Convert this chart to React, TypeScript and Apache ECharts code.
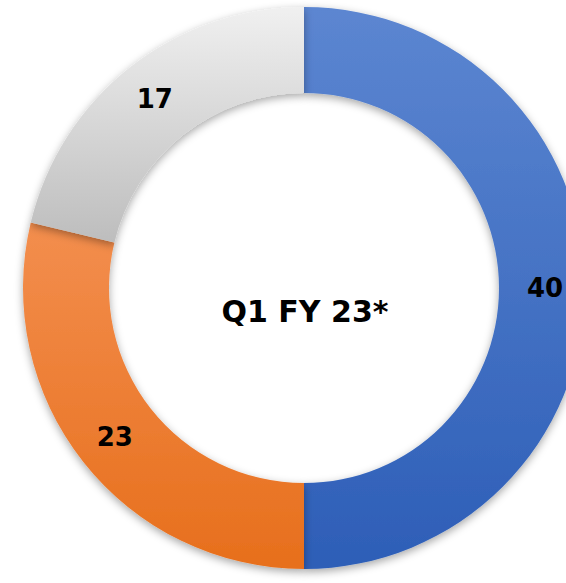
import React, { useEffect, useRef } from "react";
import * as echarts from "echarts";

const categories = ["A", "B", "C"];
const values = [40, 23, 17];
const centerLabel = "Q1 FY 23*";

const gradients = [
  ["#5C86D1", "#2D5EB7"],
  ["#F38E4E", "#E76F1C"],
  ["#F0F0F0", "#BDBDBD"],
];

const FONT = "'DejaVu Sans', sans-serif";

export default function App() {
  const ref = useRef<HTMLDivElement>(null);
  useEffect(() => {
    if (!ref.current) return;
    const chart = echarts.init(ref.current, undefined, { renderer: "svg" });
    chart.setOption({
      animation: false,
      backgroundColor: "#ffffff",
      graphic: [
        {
          type: "text",
          x: 305,
          y: 311,
          style: {
            text: centerLabel,
            fill: "#000",
            font: `bold 30px ${FONT}`,
            textAlign: "center",
            textVerticalAlign: "middle",
          },
          z: 10,
        },
      ],
      series: [
        {
          type: "pie",
          center: [304, 288],
          radius: [195, 281],
          startAngle: 90,
          clockwise: true,
          avoidLabelOverlap: false,
          label: {
            show: true,
            position: "inside",
            formatter: "{c}",
            color: "#000",
            fontSize: 26,
            fontWeight: "bold",
            fontFamily: FONT,
          },
          labelLine: { show: false },
          emphasis: { disabled: true },
          data: values.map((v, i) => ({
            name: categories[i],
            value: v,
            itemStyle: {
              color: new echarts.graphic.LinearGradient(0, 0, 0, 1, [
                { offset: 0, color: gradients[i][0] },
                { offset: 1, color: gradients[i][1] },
              ]),
              shadowBlur: 8,
              shadowOffsetY: 3,
              shadowColor: "rgba(0,0,0,0.35)",
            },
          })),
        },
      ],
    });
    return () => chart.dispose();
  }, []);
  return (
    <div
      ref={ref}
      style={{ position: "fixed", left: 0, top: 0, width: 566, height: 583 }}
    />
  );
}
